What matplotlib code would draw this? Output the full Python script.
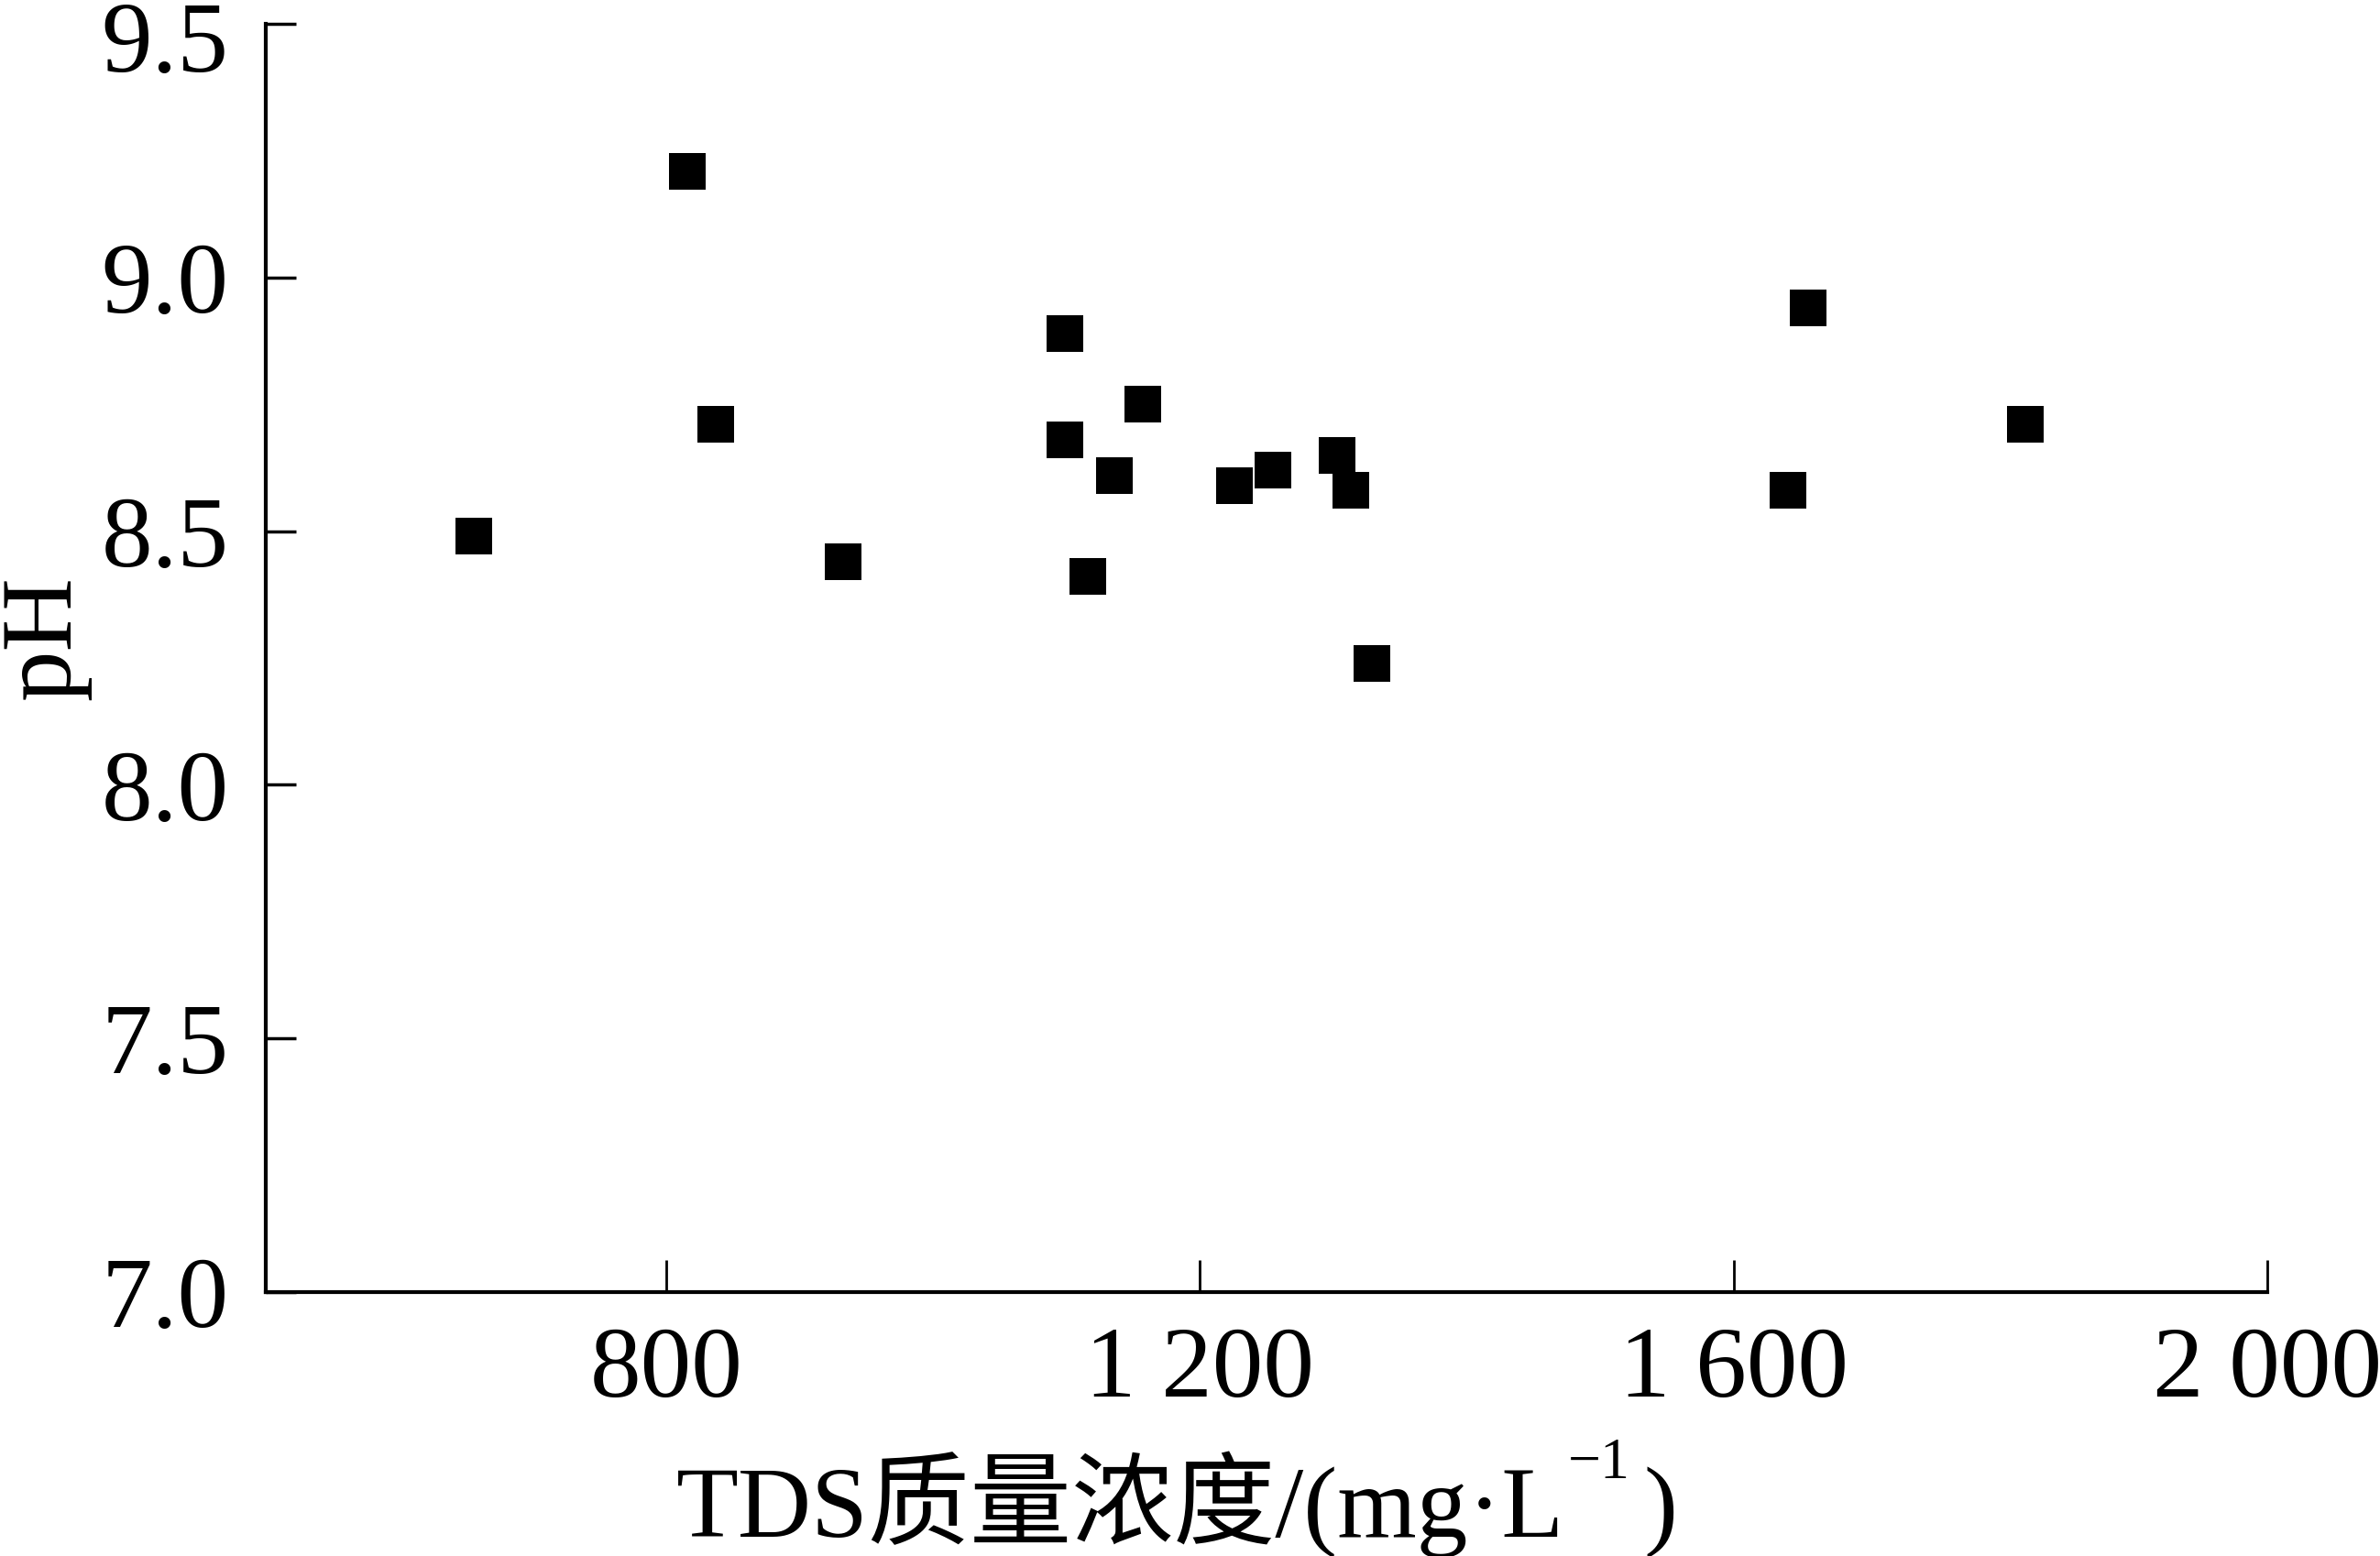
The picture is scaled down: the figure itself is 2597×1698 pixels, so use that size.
"""TDS 质量浓度与 pH 散点图."""

import matplotlib
matplotlib.use("Agg")
import matplotlib.pyplot as plt
from matplotlib.transforms import ScaledTranslation

# dados
tds = [656, 816, 837, 933, 1099, 1099, 1116, 1136, 1157, 1226,
       1255, 1303, 1313, 1329, 1641, 1656, 1819]
ph = [8.49, 9.21, 8.71, 8.44, 8.89, 8.68, 8.41, 8.61, 8.75, 8.59,
      8.62, 8.65, 8.58, 8.24, 8.58, 8.94, 8.71]

x_ticks = [800, 1200, 1600, 2000]
x_tick_labels = ["800", "1 200", "1 600", "2 000"]
y_ticks = [7.0, 7.5, 8.0, 8.5, 9.0, 9.5]

plt.rcParams["font.family"] = ["Liberation Serif", "Noto Sans CJK SC"]
FS = 80

fig = plt.figure(figsize=(25.97, 16.98), dpi=100)
ax = fig.add_axes([0.1117, 0.1696, 0.8409, 0.8151])

ax.plot(tds, ph, "s", color="black", markersize=29.5, markeredgewidth=0)

ax.set_xlim(500, 2000)
ax.set_ylim(7.0, 9.5)
ax.set_xticks(x_ticks)
ax.set_xticklabels(x_tick_labels)
ax.set_yticks(y_ticks)
ax.set_yticklabels([f"{v:.1f}" for v in y_ticks])

for side in ("top", "right"):
    ax.spines[side].set_visible(False)
for side in ("left", "bottom"):
    ax.spines[side].set_linewidth(3)

ax.tick_params(axis="x", direction="in", length=25, width=2, pad=27, labelsize=FS)
ax.tick_params(axis="y", direction="in", length=24, width=2.5, pad=29, labelsize=FS)

# o rótulo 9.5 fica um pouco abaixo do tick, para não ser cortado
top_lbl = ax.get_yticklabels()[-1]
top_lbl.set_transform(top_lbl.get_transform()
                      + ScaledTranslation(0, -0.14, fig.dpi_scale_trans))

ax.set_ylabel("pH", fontsize=FS)
ax.yaxis.set_label_coords(-0.0875, 0.516)

# rótulo do eixo x montado em partes (expoente separado)
t1 = ax.text(0.205, -0.1936, "TDS质量浓度/(mg·L", transform=ax.transAxes,
             ha="left", va="baseline", fontsize=FS)
fig.canvas.draw()
r = fig.canvas.get_renderer()
bb = t1.get_window_extent(r)
inv = ax.transAxes.inverted()
x_sup = inv.transform((bb.x1 + 4, 0))[0]
t2 = ax.text(x_sup, -0.1467, "−1", transform=ax.transAxes,
             ha="left", va="baseline", fontsize=46)
fig.canvas.draw()
bb2 = t2.get_window_extent(r)
x_par = inv.transform((bb2.x1 + 14, 0))[0]
ax.text(x_par, -0.1936, ")", transform=ax.transAxes,
        ha="left", va="baseline", fontsize=FS)

fig.savefig("out.png", dpi=100)
